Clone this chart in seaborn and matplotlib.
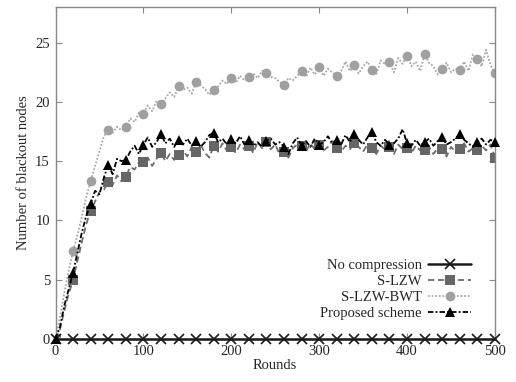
import numpy as np
import pandas as pd
import matplotlib
matplotlib.use("Agg")
import matplotlib.pyplot as plt
import seaborn as sns

rounds = list(range(0, 501, 5))

no_compression = [0.0] * len(rounds)

s_lzw = [
    0.0, 0.8, 2.4, 3.8, 5.0, 6.6, 8.2, 9.7, 10.8, 11.6,
    12.4, 12.6, 13.2, 13.0, 13.8, 13.3, 13.7, 14.5, 14.3, 14.9,
    14.9, 15.3, 14.6, 15.2, 15.7, 15.0, 15.6, 15.1, 15.5, 15.9,
    15.4, 16.2, 15.8, 16.4, 15.7, 15.3, 16.3, 15.8, 16.5, 15.9,
    16.2, 15.7, 16.4, 16.0, 16.3, 15.7, 16.6, 16.1, 16.6, 16.0,
    16.4, 15.6, 15.8, 15.3, 16.1, 16.4, 16.3, 15.8, 16.5, 16.0,
    16.4, 15.9, 16.2, 16.7, 16.1, 15.8, 16.3, 16.0, 16.5, 16.2,
    15.8, 16.4, 16.1, 15.6, 16.3, 16.0, 16.2, 15.6, 16.4, 16.0,
    16.1, 15.7, 16.3, 15.9, 15.9, 16.2, 15.6, 16.1, 16.0, 15.4,
    16.2, 15.8, 16.0, 16.5, 15.8, 16.1, 15.9, 16.3, 15.9, 16.4,
    15.3,
]

s_lzw_bwt = [
    0.0, 1.8, 3.9, 5.8, 7.4, 8.8, 10.3, 12.0, 13.3, 14.6,
    15.8, 17.1, 17.6, 17.4, 17.9, 17.6, 17.85, 18.6, 18.3, 19.1,
    19.0, 19.7, 19.2, 20.1, 19.8, 20.3, 20.8, 20.4, 21.3, 21.0,
    21.2, 20.7, 21.7, 21.4, 21.1, 20.6, 21.0, 21.3, 21.8, 21.5,
    22.0, 21.6, 22.2, 21.8, 22.1, 22.4, 22.0, 22.6, 22.4, 22.1,
    22.0, 21.7, 21.4, 22.0, 21.8, 22.2, 22.6, 22.1, 22.9, 22.3,
    22.9, 22.2, 22.8, 22.5, 22.2, 22.6, 23.4, 22.6, 23.1, 22.4,
    23.0, 23.4, 22.7, 22.3, 23.5, 23.2, 23.4, 22.5, 23.7, 23.2,
    23.9, 23.0, 23.4, 22.6, 24.0, 23.3, 23.0, 22.3, 22.8, 23.3,
    22.5, 22.8, 22.7, 23.4, 22.6, 24.0, 23.6, 23.0, 24.4, 23.1,
    22.4,
]

proposed = [
    0.0, 1.0, 2.8, 4.2, 5.6, 7.3, 9.0, 10.4, 11.4, 12.5,
    12.2, 13.6, 14.7, 13.9, 15.2, 15.0, 15.1, 15.8, 16.3, 15.6,
    16.4, 17.0, 16.2, 16.6, 17.3, 16.5, 16.9, 16.2, 16.8, 16.4,
    16.9, 16.3, 16.7, 16.2, 16.6, 17.2, 17.4, 16.6, 16.9, 16.4,
    16.9, 16.5, 17.1, 16.4, 16.8, 16.3, 16.6, 16.2, 16.7, 16.9,
    16.4, 16.6, 16.2, 15.6, 16.5, 17.0, 16.3, 16.7, 16.2, 16.9,
    16.4, 16.6, 17.1, 16.5, 16.8, 16.4, 17.2, 16.6, 17.3, 16.8,
    16.4, 17.0, 17.5, 16.6, 16.3, 16.8, 16.4, 16.5, 16.9, 17.7,
    16.5, 16.3, 16.8, 16.3, 16.6, 16.9, 16.3, 16.7, 17.0, 16.4,
    16.6, 16.9, 17.3, 16.8, 16.5, 16.2, 16.6, 16.9, 16.4, 16.8,
    16.6,
]

labels = ["No compression", "S-LZW", "S-LZW-BWT", "Proposed scheme"]
x_ticks = [0, 100, 200, 300, 400, 500]
y_ticks = [0, 5, 10, 15, 20, 25]

sns.set_style("ticks")
plt.rcParams["font.family"] = ["Liberation Serif", "DejaVu Serif"]
plt.rcParams["font.size"] = 10.5

fig = plt.figure(figsize=(5.16, 3.82), dpi=100)
ax = fig.add_axes([0.1076, 0.1126, 0.8515, 0.869])

sns.lineplot(x=rounds, y=no_compression, ax=ax, color="#1a1a1a", linewidth=1.8,
             marker="x", markersize=6.5, markeredgewidth=1.2,
             markeredgecolor="#1a1a1a", markevery=4, label=labels[0],
             clip_on=False, zorder=5)
sns.lineplot(x=rounds, y=s_lzw, ax=ax, color="#6e6e6e", linewidth=1.3,
             linestyle=(0, (3.5, 2.0)), marker="s", markersize=6.5,
             markeredgewidth=0, markerfacecolor="#666666", markevery=4,
             label=labels[1])
sns.lineplot(x=rounds, y=s_lzw_bwt, ax=ax, color="#a8a8a8", linewidth=1.3,
             linestyle=(0, (1.0, 1.0)), marker="o", markersize=7,
             markeredgewidth=0, markerfacecolor="#a0a0a0", markevery=4,
             label=labels[2])
sns.lineplot(x=rounds, y=proposed, ax=ax, color="#000000", linewidth=1.3,
             linestyle=(0, (3.0, 1.2, 1.0, 1.2)), marker="^", markersize=7,
             markeredgewidth=0, markerfacecolor="#000000", markevery=4,
             label=labels[3], clip_on=False, zorder=6)

ax.set_xlim(0, 500)
ax.set_ylim(0, 28)
ax.set_xticks(x_ticks)
ax.set_yticks(y_ticks)
ax.set_xlabel("Rounds", fontsize=10.5, labelpad=1)
ax.set_ylabel("Number of blackout nodes", fontsize=10.5, labelpad=4)
ax.tick_params(direction="in", top=True, right=True, length=4, width=0.8,
               color="#888888", labelsize=10.5, pad=4)
for s in ax.spines.values():
    s.set_color("#888888")
    s.set_linewidth(1.0)

leg = ax.legend(loc="lower right", bbox_to_anchor=(0.96, 0.04), frameon=False,
                markerfirst=False, handlelength=3.0, handletextpad=0.4,
                labelspacing=0.18, fontsize=10.5, borderaxespad=0)

fig.savefig("out.png", dpi=100)
